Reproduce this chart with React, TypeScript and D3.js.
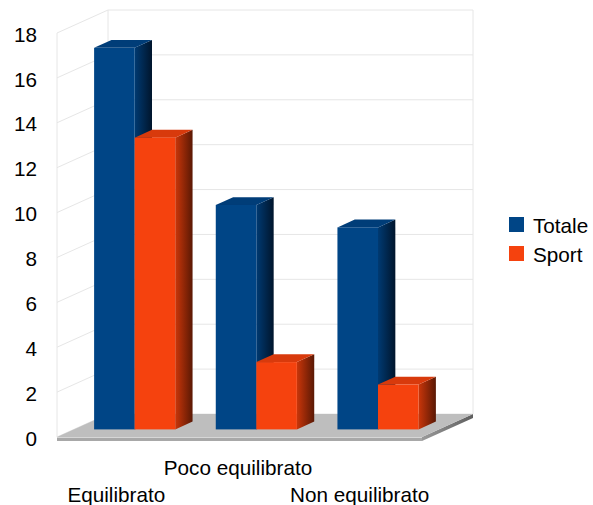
import React from "react";
import * as d3 from "d3";

// Chart data
const categories = ["Equilibrato", "Poco equilibrato", "Non equilibrato"];
const seriesNames = ["Totale", "Sport"];
const totale = [17, 10, 9];
const sport = [13, 3, 2];
const yTicks = [0, 2, 4, 6, 8, 10, 12, 14, 16, 18];

const W = 593;
const H = 505;
const FONT = "'Liberation Sans', Arial, sans-serif";
const FS = 20.7;

// Oblique projection: depth vector of the plot box
const DX = 51;
const DY = -23;
// Bars occupy this slice of the depth
const F0 = 0.33;
const F1 = 0.67;

const y = d3.scaleLinear().domain([0, 18]).range([437, 33]);
const x = d3.scaleBand<string>().domain(categories).range([57, 422]).padding(0);
const xs = d3
  .scaleBand<string>()
  .domain(seriesNames)
  .range([0, x.bandwidth()])
  .paddingInner(0)
  .paddingOuter(0.5);

const colors: Record<string, { front: string; top: string; sideA: string; sideB: string }> = {
  Totale: { front: "#004586", top: "#003d78", sideA: "#003a72", sideB: "#00152c" },
  Sport: { front: "#f5420e", top: "#d83a0c", sideA: "#c9360a", sideB: "#5a1804" },
};

const values: Record<string, number[]> = { Totale: totale, Sport: sport };

const pts = (p: [number, number][]) => p.map((d) => d.join(",")).join(" ");

export default function App() {
  const y0 = y(0);
  const xL = x.range()[0];
  const xR = x.range()[1];
  const ox = DX * F0;
  const oy = DY * F0;
  const bx = DX * F1;
  const by = DY * F1;
  const bw = xs.bandwidth();

  const bars: React.ReactNode[] = [];
  categories.forEach((c, ci) => {
    seriesNames.forEach((s) => {
      const v = values[s][ci];
      const x0 = (x(c) as number) + (xs(s) as number);
      const x1 = x0 + bw;
      const yt = y(v);
      const col = colors[s];
      bars.push(
        <g key={`${c}-${s}`}>
          <polygon
            points={pts([
              [x1 + ox, yt + oy],
              [x1 + bx, yt + by],
              [x1 + bx, y0 + by],
              [x1 + ox, y0 + oy],
            ])}
            fill={`url(#side-${s})`}
          />
          <polygon
            points={pts([
              [x0 + ox, yt + oy],
              [x1 + ox, yt + oy],
              [x1 + bx, yt + by],
              [x0 + bx, yt + by],
            ])}
            fill={col.top}
          />
          <rect x={x0 + ox} y={yt + oy} width={bw} height={y0 - yt} fill={col.front} />
        </g>
      );
    });
  });

  return (
    <svg
      width={W}
      height={H}
      style={{ position: "absolute", left: 0, top: 0, background: "#fff" }}
      fontFamily={FONT}
    >
      <defs>
        {seriesNames.map((s) => (
          <linearGradient key={s} id={`side-${s}`} x1="0" y1="0" x2="1" y2="0">
            <stop offset="0" stopColor={colors[s].sideA} />
            <stop offset="1" stopColor={colors[s].sideB} />
          </linearGradient>
        ))}
        <linearGradient id="floor-side" x1="0" y1="0" x2="1" y2="0">
          <stop offset="0" stopColor="#9a9a9a" />
          <stop offset="1" stopColor="#5e5e5e" />
        </linearGradient>
      </defs>

      {/* walls and gridlines */}
      <g stroke="#e6e6e6" strokeWidth={1} fill="none">
        {yTicks.map((t) => (
          <polyline
            key={t}
            points={pts([
              [xL, y(t)],
              [xL + DX, y(t) + DY],
              [xR + DX, y(t) + DY],
            ])}
          />
        ))}
        <line x1={xL} y1={y(18)} x2={xL} y2={y0} />
        <line x1={xL + DX} y1={y(18) + DY} x2={xL + DX} y2={y0 + DY} />
        <line x1={xR + DX} y1={y(18) + DY} x2={xR + DX} y2={y0 + DY} />
      </g>

      {/* floor slab */}
      <polygon
        points={pts([
          [xL, y0 + 4],
          [xR, y0 + 4],
          [xR, y0],
          [xL, y0],
        ])}
        fill="#a8a8a8"
      />
      <polygon
        points={pts([
          [xR, y0],
          [xR + DX, y0 + DY],
          [xR + DX, y0 + DY + 4],
          [xR, y0 + 4],
        ])}
        fill="url(#floor-side)"
      />
      <polygon
        points={pts([
          [xL, y0],
          [xR, y0],
          [xR + DX, y0 + DY],
          [xL + DX, y0 + DY],
        ])}
        fill="#bebebe"
      />
      <line x1={xL} y1={y0 + 0.5} x2={xR} y2={y0 + 0.5} stroke="#d6d6d6" />

      {bars}

      {/* y axis labels */}
      <g fontSize={FS} fill="#000" textAnchor="end">
        {yTicks.map((t) => (
          <text key={t} x={37} y={y(t) + 8.7}>
            {t}
          </text>
        ))}
      </g>

      {/* category labels, staggered */}
      <g fontSize={FS} fill="#000" textAnchor="middle">
        {categories.map((c, i) => (
          <text key={c} x={(x(c) as number) + x.bandwidth() / 2 - 1.5} y={i % 2 === 0 ? 502 : 475}>
            {c}
          </text>
        ))}
      </g>

      {/* legend */}
      <g fontSize={FS} fill="#000">
        {seriesNames.map((s, i) => (
          <g key={s} transform={`translate(509, ${217 + i * 29})`}>
            <rect width={15} height={15} fill={colors[s].front} />
            <text x={24} y={16}>
              {s}
            </text>
          </g>
        ))}
      </g>
    </svg>
  );
}
